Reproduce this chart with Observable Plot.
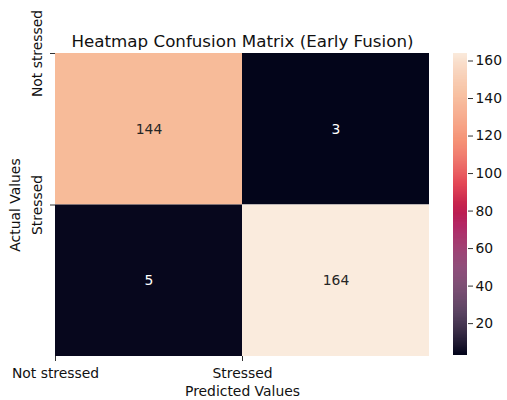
<!DOCTYPE html>
<html>
<head>
<meta charset="utf-8">
<script src="https://cdn.jsdelivr.net/npm/d3@7"></script>
<script src="https://cdn.jsdelivr.net/npm/@observablehq/plot@0.6"></script>
<style>
  html, body { margin: 0; padding: 0; background: white; }
  #wrap { position: relative; width: 507px; height: 400px; overflow: hidden; }
  #wrap svg { position: absolute; top: 0; }
</style>
</head>
<body>
<div id="wrap"></div>
<script>
const title = "Heatmap Confusion Matrix (Early Fusion)";
const classLabels = ["Not stressed", "Stressed"];
const rowNotStressed = [144, 3];
const rowStressed = [5, 164];
const xLabel = "Predicted Values";
const yLabel = "Actual Values";
const colorbarTicks = [20, 40, 60, 80, 100, 120, 140, 160];

// seaborn "rocket" colormap approximation
const rocketStops = [0, 1/7, 2/7, 3/7, 4/7, 5/7, 6/7, 1];
const rocketColors = ["#03051a", "#35193e", "#701f57", "#ad1759", "#e13342", "#f37651", "#f6b48f", "#faebdd"];
const rocketScale = d3.scaleLinear().domain(rocketStops).range(rocketColors).interpolate(d3.interpolateRgb);
const rocket = t => rocketScale(t);

const rows = [rowNotStressed, rowStressed];
const cells = [];
rows.forEach((r, i) => r.forEach((v, j) => cells.push({i, j, v})));
const [vmin, vmax] = d3.extent(cells, d => d.v);

const FS = 13.9;
const font = "DejaVu Sans, sans-serif";
const colorOpt = {type: "linear", domain: [vmin, vmax], interpolate: rocket};

const main = Plot.plot({
  width: 507, height: 400,
  marginLeft: 55, marginRight: 78, marginTop: 53, marginBottom: 44,
  style: {fontFamily: font, fontSize: FS + "px", background: "white", color: "#111"},
  x: {domain: [0, 2], axis: null},
  y: {domain: [0, 2], reverse: true, axis: null},
  color: colorOpt,
  marks: [
    Plot.rect(cells, {x1: d => d.j, x2: d => d.j + 1, y1: d => d.i, y2: d => d.i + 1, fill: d => d.v, inset: 0}),
    Plot.text(cells, {x: d => d.j + 0.5, y: d => d.i + 0.5, text: d => String(d.v),
      fill: d => d.v > (vmin + vmax) / 2 ? "#262626" : "white", fontSize: FS}),
    Plot.axisX({ticks: [0, 1], tickFormat: d => classLabels[d], tickSize: 5, tickPadding: 7, label: null, fontSize: FS, stroke: "#333"}),
    Plot.axisY({ticks: [0, 1], tickFormat: () => "", tickSize: 5, label: null, stroke: "#333"}),
    Plot.text([0, 1], {y: d => d, frameAnchor: "left", text: d => classLabels[d], rotate: -90, dx: -18,
      textAnchor: "middle", lineAnchor: "middle", fontSize: FS, fill: "#111"}),
    Plot.text([title], {frameAnchor: "top", dy: -7, lineAnchor: "bottom", fontSize: 16.7, fill: "#111"}),
    Plot.text([xLabel], {frameAnchor: "bottom", dy: 39, lineAnchor: "bottom", fontSize: FS, fill: "#111"}),
    Plot.text([yLabel], {frameAnchor: "left", dx: -40, rotate: -90, textAnchor: "middle", lineAnchor: "middle", fontSize: FS, fill: "#111"})
  ]
});

// colorbar gradient
const step = (vmax - vmin) / 300;
const ramp = d3.range(vmin, vmax, step);
const bar = Plot.plot({
  width: 60, height: 400,
  marginLeft: 0, marginRight: 46, marginTop: 53, marginBottom: 45,
  style: {fontFamily: font, fontSize: FS + "px", background: "transparent", color: "#111"},
  y: {domain: [vmin, vmax], axis: null},
  color: colorOpt,
  marks: [
    Plot.rect(ramp, {y1: d => d, y2: d => Math.min(d + step * 1.05, vmax), fill: d => d, inset: 0}),
    Plot.axisY({anchor: "right", ticks: colorbarTicks, tickSize: 5, tickPadding: 3, label: null, fontSize: FS, stroke: "#333"})
  ]
});
bar.style.left = "453px";
main.style.left = "0px";

const wrap = document.getElementById("wrap");
wrap.appendChild(main);
wrap.appendChild(bar);
</script>
</body>
</html>
